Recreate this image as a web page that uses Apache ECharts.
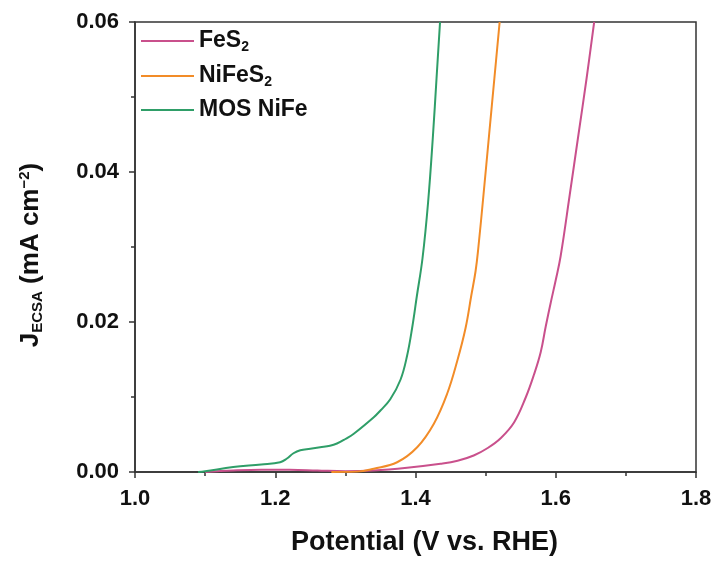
<!DOCTYPE html>
<html><head><meta charset="utf-8">
<script src="https://cdn.jsdelivr.net/npm/echarts@6/dist/echarts.min.js"></script>
<style>html,body{margin:0;padding:0;background:#fff}#c{width:717px;height:561px}</style>
</head><body><div id="c"></div>
<script>
const seriesNames = ['FeS2', 'NiFeS2', 'MOS NiFe'];
const legendLabels = ['FeS{sub|2}', 'NiFeS{sub|2}', 'MOS NiFe'];
const xTicks = [1.0, 1.2, 1.4, 1.6, 1.8];
const yTicks = [0.00, 0.02, 0.04, 0.06];

const fes2 = [[1.10,0],[1.14,0.0002],[1.18,0.0003],[1.22,0.0003],[1.26,0.0002],[1.30,0.0001],[1.34,0.0002],[1.388,0.00057],[1.4357,0.0011],[1.46,0.0015],[1.483,0.0022],[1.503,0.0032],[1.5214,0.0045],[1.5405,0.0066],[1.557,0.0099],[1.569,0.013],[1.5786,0.0160],[1.5857,0.0194],[1.5929,0.0226],[1.6,0.0256],[1.607,0.0288],[1.62,0.037],[1.6324,0.045],[1.644,0.0525],[1.6548,0.06]];
const nifes2 = [[1.28,0],[1.3167,0.00005],[1.3405,0.00044],[1.3738,0.0013],[1.4024,0.0033],[1.426,0.0064],[1.445,0.0104],[1.4595,0.0148],[1.4714,0.0192],[1.4795,0.0235],[1.4857,0.0268],[1.4895,0.0298],[1.497,0.037],[1.505,0.045],[1.5125,0.0525],[1.52,0.06]];
const mosnife = [[1.09,0],[1.10,0.0001],[1.14,0.00066],[1.18,0.001],[1.207,0.0013],[1.2167,0.0018],[1.226,0.0025],[1.2357,0.0029],[1.25,0.0031],[1.264,0.0033],[1.278,0.0035],[1.288,0.0038],[1.30,0.0044],[1.312,0.0051],[1.3405,0.0073],[1.35,0.0082],[1.364,0.0097],[1.3786,0.0123],[1.388,0.0155],[1.3952,0.0192],[1.402,0.0235],[1.41,0.0285],[1.418,0.036],[1.425,0.045],[1.43,0.0525],[1.435,0.06]];
const colors = ['#c9508c', '#f28c28', '#2f9e68'];

const F = 'Liberation Sans, Arial, sans-serif';
const chart = echarts.init(document.getElementById('c'));
const lbl = {};
seriesNames.forEach((n,i)=>lbl[n]=legendLabels[i]);
const axisCommon = {
  axisLine: {lineStyle: {color: '#333', width: 1.5}},
  axisTick: {inside: false, length: 6, lineStyle: {color: '#333', width: 1.5}},
  minorTick: {show: true, splitNumber: 2, length: 4, lineStyle: {color: '#333', width: 1.5}},
  splitLine: {show: false}
};
chart.setOption({
  animation: false,
  grid: {left: 135, right: 21, top: 22, bottom: 86, show: true, borderColor: '#333', borderWidth: 1.5, backgroundColor: 'transparent'},
  legend: {
    left: 136, top: 23, orient: 'vertical', itemWidth: 53, itemHeight: 10, itemGap: 9,
    icon: 'path://M0,0 L54,0 L54,2 L0,2 Z',
    data: seriesNames,
    formatter: n => lbl[n],
    textStyle: {fontFamily: F, fontSize: 23, fontWeight: 'bold', color: '#111', lineHeight: 24,
      rich: {sub: {fontFamily: F, fontSize: 14, fontWeight: 'bold', color: '#111', lineHeight: 24, padding: [12,0,0,0]}}}
  },
  xAxis: Object.assign({
    type: 'value', min: 1.0, max: 1.8, interval: 0.2,
    name: 'Potential (V vs. RHE)', nameLocation: 'middle', nameGap: 57,
    nameTextStyle: {fontFamily: F, fontSize: 27, fontWeight: 'bold', color: '#111', padding: [0,0,0,18]},
    axisLabel: {formatter: v => v.toFixed(1), fontFamily: F, fontSize: 22, fontWeight: 'bold', color: '#111', margin: 16}
  }, axisCommon),
  yAxis: Object.assign({
    type: 'value', min: 0, max: 0.06, interval: 0.02,
    name: '{j|J}{s|ECSA}{j| (mA cm}{p|−2}{j|)}', nameLocation: 'middle', nameGap: 90,
    nameTextStyle: {fontFamily: F, fontSize: 26, fontWeight: 'bold', color: '#111', padding: [0,16,0,0],
      rich: {
        j: {fontFamily: F, fontSize: 26, fontWeight: 'bold', color: '#111'},
        s: {fontFamily: F, fontSize: 15, fontWeight: 'bold', color: '#111', padding: [14,0,0,0]},
        p: {fontFamily: F, fontSize: 15, fontWeight: 'bold', color: '#111', padding: [0,0,12,0]}
      }},
    axisLabel: {formatter: v => v.toFixed(2), fontFamily: F, fontSize: 22, fontWeight: 'bold', color: '#111', margin: 16}
  }, axisCommon),
  series: [
    {name: seriesNames[0], type: 'line', data: fes2, showSymbol: false, smooth: 0.4, lineStyle: {width: 2, color: colors[0]}, itemStyle: {color: colors[0]}},
    {name: seriesNames[1], type: 'line', data: nifes2, showSymbol: false, smooth: 0.4, lineStyle: {width: 2, color: colors[1]}, itemStyle: {color: colors[1]}},
    {name: seriesNames[2], type: 'line', data: mosnife, showSymbol: false, smooth: 0.4, lineStyle: {width: 2, color: colors[2]}, itemStyle: {color: colors[2]}}
  ]
});
</script></body></html>
